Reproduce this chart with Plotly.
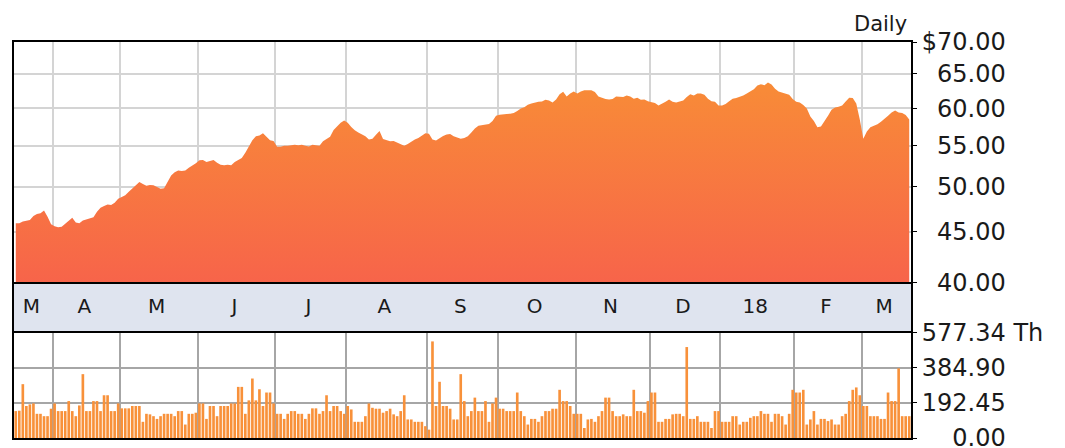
import numpy as np
import plotly.graph_objects as go

# ---------------- data ----------------
month_labels = ["M", "A", "M", "J", "J", "A", "S", "O", "N", "D", "18", "F", "M"]
month_days = [11, 19, 22, 22, 20, 23, 20, 22, 21, 20, 21, 19, 14]  # trading days shown per month

price = [
    45.9, 45.9, 46.1, 46.2, 46.25, 46.7, 46.9, 47.0, 47.3, 46.6,
    45.8, 45.6, 45.5, 45.55, 45.85, 46.25, 46.5, 46.0, 45.9, 46.2,
    46.3, 46.45, 46.55, 47.15, 47.6, 47.8, 47.95, 47.9, 48.15, 48.6,
    48.85, 49.0, 49.4, 49.75, 50.1, 50.55, 50.3, 50.1, 50.2, 50.15,
    49.95, 49.75, 49.8, 50.6, 51.3, 51.7, 51.9, 51.85, 51.9, 52.25,
    52.5, 52.8, 53.15, 53.2, 52.95, 53.1, 53.2, 52.85, 52.6, 52.55,
    52.6, 52.55, 52.95, 53.2, 53.45, 54.1, 55.0, 55.7, 56.2, 56.3,
    56.6, 56.2, 55.7, 55.6, 54.85, 54.85, 55.0, 55.0, 55.05, 55.1,
    55.05, 55.1, 55.0, 54.9, 55.1, 55.05, 55.0, 55.55, 55.85, 56.15,
    57.05, 57.6, 58.0, 58.3, 58.0, 57.45, 57.0, 56.7, 56.5, 56.2,
    55.8, 55.9, 56.4, 56.9, 55.85, 55.65, 55.55, 55.6, 55.4, 55.1,
    55.0, 55.2, 55.55, 55.8, 56.0, 56.35, 56.6, 56.55, 55.8, 55.65,
    56.0, 56.25, 56.45, 56.5, 56.2, 56.0, 55.9, 56.0, 56.2, 56.7,
    57.25, 57.6, 57.65, 57.7, 57.85, 58.25, 58.95, 59.1, 59.1, 59.2,
    59.25, 59.35, 59.6, 59.95, 60.15, 60.5, 60.65, 60.8, 60.9, 60.95,
    61.2, 61.1, 60.8, 61.25, 62.0, 62.35, 61.65, 62.1, 62.4, 62.1,
    62.4, 62.55, 62.55, 62.55, 62.3, 61.65, 61.5, 61.3, 61.25, 61.3,
    61.65, 61.65, 61.6, 61.8, 61.65, 61.35, 61.5, 61.2, 61.25, 61.0,
    60.9, 60.75, 60.4, 60.6, 60.9, 61.25, 60.9, 60.8, 61.0, 61.1,
    61.6, 62.0, 61.8, 62.1, 62.1, 61.9, 61.35, 61.0, 60.9, 60.4,
    60.4, 60.6, 61.0, 61.35, 61.45, 61.6, 61.8, 62.1, 62.45, 62.7,
    63.25, 63.45, 63.3, 63.7, 63.4, 62.8, 62.4, 62.25, 62.1, 61.9,
    61.3, 60.9, 60.8, 60.45, 59.95, 58.85, 58.25, 57.4, 57.5, 58.15,
    58.95, 59.8, 60.1, 60.2, 60.4, 60.95, 61.5, 61.45, 60.65, 58.45,
    55.9, 56.85, 57.4, 57.6, 57.8, 58.15, 58.5, 58.95, 59.4, 59.7,
    59.4, 59.35, 59.05, 58.45,
]

volume = [
    148, 150, 296, 176, 185, 190, 133, 133, 120, 120,
    161, 190, 148, 148, 148, 203, 148, 120, 179, 351,
    148, 148, 203, 203, 148, 235, 235, 148, 148, 190,
    163, 163, 163, 176, 176, 176, 89, 133, 130, 120,
    105, 120, 133, 133, 133, 120, 148, 148, 74, 133,
    133, 139, 190, 190, 105, 176, 176, 120, 176, 176,
    176, 190, 190, 281, 281, 133, 207, 327, 207, 268,
    176, 250, 250, 190, 133, 133, 105, 133, 148, 148,
    133, 133, 105, 133, 163, 163, 133, 148, 235, 148,
    176, 176, 148, 133, 176, 157, 89, 89, 89, 120,
    190, 166, 161, 161, 139, 148, 161, 130, 120, 148,
    235, 102, 102, 89, 89, 89, 65, 46, 531, 176,
    309, 176, 176, 161, 102, 102, 351, 203, 120, 148,
    222, 148, 148, 203, 89, 190, 222, 161, 161, 148,
    148, 148, 250, 148, 120, 74, 105, 105, 89, 120,
    148, 148, 161, 161, 265, 203, 203, 176, 133, 133,
    133, 55, 102, 105, 89, 120, 148, 222, 222, 148,
    120, 120, 130, 120, 120, 265, 148, 148, 139, 203,
    250, 250, 89, 89, 105, 105, 130, 133, 133, 120,
    500, 105, 105, 120, 89, 89, 89, 55, 148, 148,
    89, 89, 89, 120, 120, 74, 89, 89, 111, 120,
    120, 148, 133, 133, 89, 133, 133, 120, 74, 133,
    265, 250, 250, 265, 74, 102, 148, 74, 105, 105,
    93, 102, 74, 74, 120, 133, 203, 265, 278, 235,
    176, 176, 120, 120, 120, 105, 105, 250, 203, 203,
    383, 120, 120, 120,
]

price_ticks = [40, 45, 50, 55, 60, 65, 70]
price_ticktext = ["\u200740.00", "\u200745.00", "\u200750.00", "\u200755.00",
                  "\u200760.00", "\u200765.00", "$70.00"]
vol_ticks = [0, 192.45, 384.90, 577.34]
vol_ticktext = ["\u2007\u20070.00", "192.45", "384.90", "577.34 Th"]

# ---------------- derived ----------------
n = len(price)
x = list(range(n))
starts = np.cumsum([0] + month_days[:-1])
bounds = [int(s) - 0.5 for s in starts[1:]]
centers = [int(s) + (d - 1) / 2 - 0.6 for s, d in zip(starts, month_days)]

FONT = "DejaVu Sans"
TXT = "#1a1a1a"

fig = go.Figure()

# baseline at axis floor, then price area filled with vertical gradient
fig.add_trace(go.Scatter(x=x, y=[price_ticks[0]] * n, mode="lines",
                         line=dict(width=0), hoverinfo="skip",
                         xaxis="x", yaxis="y"))
fig.add_trace(go.Scatter(
    x=x, y=price, mode="lines", line=dict(width=0, color="#f88a38"),
    fill="tonexty",
    fillgradient=dict(type="vertical", start=price_ticks[0], stop=64,
                      colorscale=[[0, "#f7644a"], [1, "#f88c37"]]),
    xaxis="x", yaxis="y", hoverinfo="skip"))

# month labels in band
fig.add_trace(go.Scatter(
    x=centers, y=[0.5] * len(centers), mode="text", text=month_labels,
    textfont=dict(family=FONT, size=20, color=TXT),
    xaxis="x2", yaxis="y2", hoverinfo="skip"))

# volume bars
fig.add_trace(go.Bar(x=x, y=volume, marker=dict(color="#f8913a", line=dict(width=0)),
                     xaxis="x3", yaxis="y3", hoverinfo="skip"))

common_x = dict(range=[-0.5, n - 0.5], showticklabels=False, ticks="",
                showline=True, mirror=True, linecolor="#000", linewidth=2,
                zeroline=False, fixedrange=True, automargin=False)

price_dom = [0.3927, 1.0]
band_dom = [0.2652, 0.3927]
vol_dom = [0.0, 0.2652]

band_x = dict(common_x)
band_x["showline"] = False

# page body has an 8px margin: figure is sized/offset to fit the 1065x448 window
fig.update_layout(
    width=1057, height=440,
    margin=dict(l=6, r=154, t=34, b=10, autoexpand=False),
    plot_bgcolor="white", paper_bgcolor="white",
    showlegend=False, bargap=0.25,
    xaxis=dict(**common_x, tickvals=bounds, showgrid=True,
               gridcolor="#d4d4d4", gridwidth=2, anchor="y"),
    yaxis=dict(type="log", range=[np.log10(price_ticks[0]), np.log10(price_ticks[-1])],
               domain=price_dom, side="right", anchor="x", automargin=False,
               ticklabeloverflow="allow",
               tickvals=price_ticks, ticktext=price_ticktext,
               showgrid=True, gridcolor="#d4d4d4", gridwidth=2,
               ticks="outside", ticklen=4, tickcolor="#000", tickwidth=1,
               showline=True, mirror=True, linecolor="#000", linewidth=2,
               zeroline=False, tickfont=dict(family=FONT, size=24, color=TXT)),
    xaxis2=dict(**band_x, showgrid=False, anchor="y2"),
    yaxis2=dict(range=[0, 1], domain=band_dom, anchor="x2", showgrid=False,
                showticklabels=False, ticks="", showline=True, mirror=True,
                linecolor="#000", linewidth=2, zeroline=False, automargin=False),
    xaxis3=dict(**common_x, tickvals=bounds, showgrid=True,
                gridcolor="#a6a6a6", gridwidth=2, anchor="y3"),
    yaxis3=dict(range=[0, vol_ticks[-1]], domain=vol_dom, side="right", anchor="x3",
                automargin=False, ticklabeloverflow="allow",
                tickvals=vol_ticks, ticktext=vol_ticktext,
                showgrid=True, gridcolor="#a6a6a6", gridwidth=2,
                ticks="outside", ticklen=4, tickcolor="#000", tickwidth=1,
                showline=True, mirror=True, linecolor="#000", linewidth=2,
                zeroline=False, tickfont=dict(family=FONT, size=24, color=TXT)),
    shapes=[dict(type="rect", xref="x2 domain", yref="y2 domain",
                 x0=0, x1=1, y0=0, y1=1, fillcolor="#dfe4ef",
                 line=dict(width=0), layer="below")],
    annotations=[dict(text="Daily", xref="paper", yref="paper", x=1, y=1,
                      xanchor="right", yanchor="bottom", xshift=-2, yshift=4,
                      showarrow=False,
                      font=dict(family=FONT, size=21, color=TXT))],
)

fig.write_html("out.html")
